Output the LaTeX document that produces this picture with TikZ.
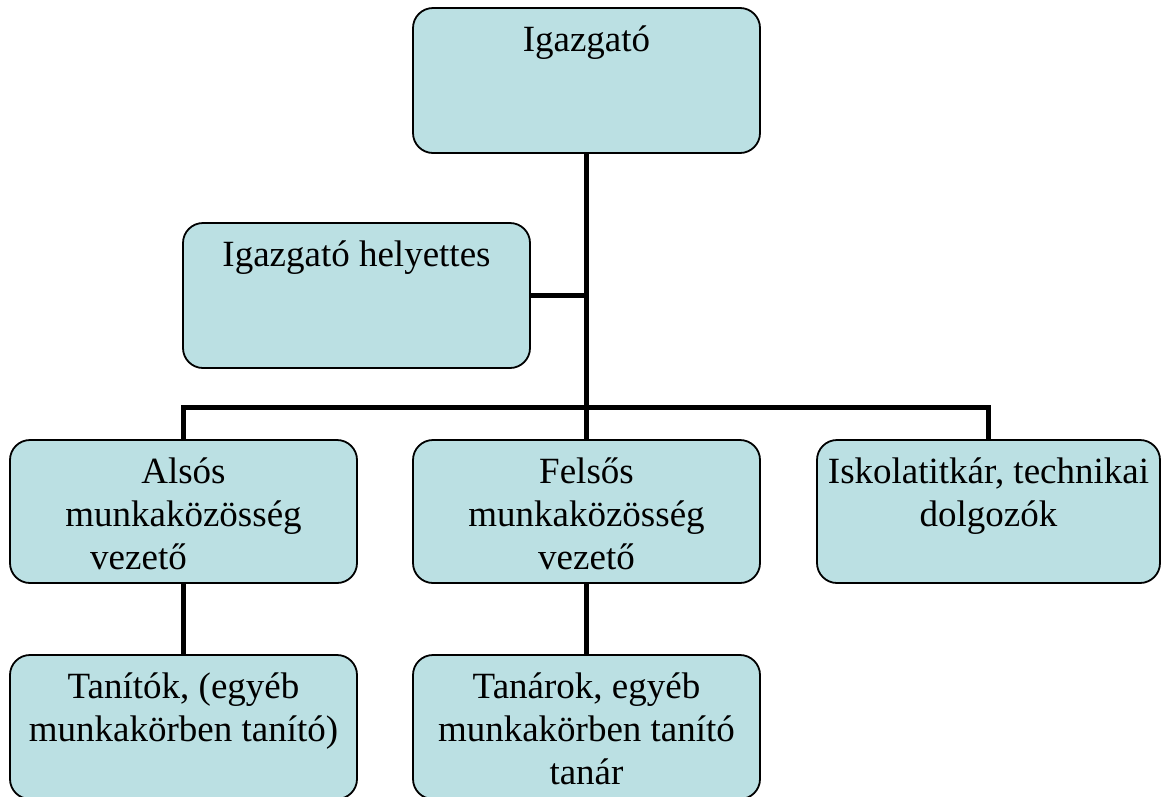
\documentclass[tikz,border=0pt]{standalone}
\usepackage{fontspec}
\setmainfont{Liberation Serif}
\definecolor{boxfill}{RGB}{187,224,227}
\newcommand{\bt}[3]{\parbox[c][#2pt][t]{#1pt}{\fontsize{37}{43}\selectfont\centering\rule{0pt}{43pt}#3}}
\tikzset{
  orgbox/.style={draw=black, line width=1.8pt, rounded corners=20pt, fill=boxfill, inner sep=0pt, outer sep=0pt},
  link/.style={line width=5pt}
}
\begin{document}
\begin{tikzpicture}[x=1pt,y=-1pt]
\useasboundingbox (0,0) rectangle (1161,796);
\node[orgbox] (igaz) at (586.5,80.5) {\bt{347}{145}{Igazgató}};
\node[orgbox] (hely) at (356.5,295.5) {\bt{347}{145}{Igazgató helyettes}};
\node[orgbox] (alsos) at (183.5,511.5) {\bt{347}{143}{Alsós\\ munkaközösség\\ vezető\hspace*{90pt}}};
\node[orgbox] (felsos) at (586.5,511.5) {\bt{347}{143}{Felsős\\ munkaközösség\\ vezető}};
\node[orgbox] (iskola) at (988.5,511.5) {\bt{343}{143}{Iskolatitkár, technikai\\ dolgozók}};
\node[orgbox] (tanitok) at (183.5,727) {\bt{347}{144}{Tanítók, (egyéb\\ munkakörben tanító)}};
\node[orgbox] (tanarok) at (586.5,727) {\bt{347}{144}{Tanárok, egyéb\\ munkakörben tanító\\ tanár}};
\coordinate (bus) at (586.5,407);
\draw[link] (igaz.south) -- (felsos.north);
\draw[link] (hely.east) -- (hely.east -| igaz.south);
\draw[link] (alsos.north) |- (bus) -| (iskola.north);
\draw[link] (alsos.south) -- (tanitok.north);
\draw[link] (felsos.south) -- (tanarok.north);
\end{tikzpicture}
\end{document}
